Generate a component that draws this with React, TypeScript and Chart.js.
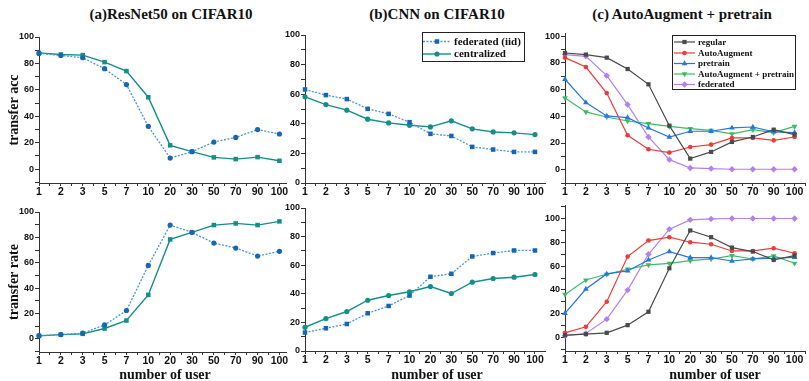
import React, { useEffect, useRef } from 'react';
import { Chart, registerables } from 'chart.js';

Chart.register(...registerables);

// ---------- data ----------
const xLabels = ['1', '2', '3', '5', '7', '10', '20', '30', '50', '70', '90', '100'];

// (a) ResNet50 on CIFAR10
const aAccFederated = [87.6, 86, 84.3, 76, 64, 32.4, 8.4, 13.2, 20.5, 24, 29.9, 26.6];
const aAccCentralized = [88, 86.8, 86.3, 81, 74.2, 54.4, 18, 13.2, 8.9, 7.6, 9.1, 6.3];
const aRateFederated = [2.6, 3.4, 4.5, 11, 22.4, 57.9, 89.7, 84, 75.5, 71.6, 65.3, 69];
const aRateCentralized = [2.4, 3.4, 4, 8.2, 14.5, 34.7, 78.4, 84, 89.7, 91, 89.7, 92.6];

// (b) CNN on CIFAR10
const bAccFederated = [63.2, 59.4, 56.7, 50.1, 46.7, 41.1, 33.2, 31.8, 24.4, 22.6, 21, 21];
const bAccCentralized = [58.2, 53, 49.2, 43.1, 40.6, 39, 37.9, 42, 36.6, 34.5, 33.9, 32.7];
const bRateFederated = [12.9, 15.9, 18.9, 26.4, 31.5, 38.8, 51.9, 54, 66.1, 68.5, 70.3, 70.3];
const bRateCentralized = [16.6, 22.7, 27.6, 35.5, 38.8, 41.4, 45.1, 40.2, 48.1, 50.7, 51.6, 53.5];

// (c) AutoAugment + pretrain
const cAccRegular = [87.5, 86.3, 84, 75.5, 64, 33, 8.3, 13.3, 20.8, 24.5, 30, 26.3];
const cAccAutoAugment = [84, 77, 57.5, 25.8, 15.3, 12.8, 17, 18.8, 23.8, 23.8, 22, 24.5];
const cAccPretrain = [67.8, 50.3, 40.3, 39, 31.3, 24.5, 28.8, 28.8, 31.3, 32, 28.3, 27.8];
const cAccAugPretrain = [53.8, 43.3, 39.5, 36.5, 34.5, 32.5, 30.8, 29.5, 26.8, 30, 27.8, 32.5];
const cAccFederated = [86.3, 85, 70.5, 48.8, 24.5, 7.5, 1.3, 0.8, 0.3, 0.3, 0.3, 0.3];

const cRateRegular = [2.2, 3.1, 4.2, 10.6, 21.8, 58.1, 89.7, 84.1, 75.4, 72.1, 65.1, 68.7];
const cRateAutoAugment = [4.2, 9.2, 30.2, 67.9, 81.3, 84.1, 79.9, 78.2, 72.6, 72.6, 74.9, 70.7];
const cRatePretrain = [20.4, 40.8, 53.4, 55.9, 65.1, 72.1, 67, 67, 64.2, 65.9, 66.5, 67.3];
const cRateAugPretrain = [36.3, 48.3, 53.1, 57.3, 60.9, 62.3, 64.5, 65.9, 68.7, 65.9, 68.4, 62.3];
const cRateFederated = [1.7, 3.6, 15.6, 39.9, 69.8, 90.8, 98.6, 99.4, 99.7, 99.7, 99.7, 99.7];

// ---------- styles ----------
const SANS = "'Liberation Sans', Arial, Helvetica, sans-serif";
const SERIF = "'Liberation Serif', 'Times New Roman', Times, serif";
const AX = '#333333';
const TXT = '#111111';

type Series = {
  label: string;
  values: number[];
  color: string;
  lineColor?: string;
  dash?: number[];
  point: string;
  rotation?: number;
  radius: number;
  width: number;
};

type LegendSpec = {
  x: number; y: number; w: number; h: number;
  rows: number[]; lineX1: number; lineX2: number; textX: number; fontSize: number;
};

type PanelSpec = {
  left: number; top: number; width: number; height: number;
  yWidth: number; xHeight: number; padTop: number; padRight: number;
  xMax: number; yMin: number; yMax: number;
  yTitle?: string;
  series: Series[];
  legend?: LegendSpec;
};

const BLUE = '#1766b3';
const BLUE_LINE = '#4a95d6';
const TEAL = '#138f87';

const fedCircle = (values: number[]): Series => ({ label: 'federated (iid)', values, color: BLUE, lineColor: BLUE_LINE, dash: [2, 1.5], point: 'circle', radius: 2.6, width: 1.3 });
const cenRect = (values: number[]): Series => ({ label: 'centralized', values, color: TEAL, point: 'rect', radius: 3.2, width: 1.4 });
const fedRect = (values: number[]): Series => ({ label: 'federated (iid)', values, color: BLUE, lineColor: BLUE_LINE, dash: [2, 1.5], point: 'rect', radius: 3.2, width: 1.3 });
const cenCircle = (values: number[]): Series => ({ label: 'centralized', values, color: TEAL, point: 'circle', radius: 2.6, width: 1.4 });

const cSeries = (reg: number[], aa: number[], pre: number[], aap: number[], fed: number[]): Series[] => [
  { label: 'regular', values: reg, color: '#4a4a4a', point: 'rect', radius: 3, width: 1.2 },
  { label: 'AutoAugment', values: aa, color: '#f03a3a', point: 'circle', radius: 2.3, width: 1.2 },
  { label: 'pretrain', values: pre, color: '#2676e0', point: 'triangle', radius: 3.3, width: 1.2 },
  { label: 'AutoAugment + pretrain', values: aap, color: '#3dba66', point: 'triangle', rotation: 180, radius: 3.3, width: 1.2 },
  { label: 'federated', values: fed, color: '#b480ee', point: 'rectRot', radius: 3.2, width: 1.2 },
];

const panels: PanelSpec[] = [
  // top row
  { left: 0, top: 29, width: 290, height: 174, yWidth: 39, xHeight: 20, padTop: 8, padRight: 4,
    xMax: 11.3, yMin: -10.5, yMax: 100, yTitle: 'transfer acc',
    series: [fedCircle(aAccFederated), cenRect(aAccCentralized)] },
  { left: 270, top: 27, width: 279, height: 176, yWidth: 35, xHeight: 20, padTop: 8, padRight: 4,
    xMax: 11.48, yMin: 0, yMax: 100,
    series: [fedRect(bAccFederated), cenCircle(bAccCentralized)],
    legend: { x: 422, y: 32, w: 102, h: 29, rows: [41.5, 54], lineX1: 423, lineX2: 451, textX: 454, fontSize: 11 } },
  { left: 530, top: 25, width: 279, height: 178, yWidth: 35, xHeight: 20, padTop: 8, padRight: 2,
    xMax: 11.5, yMin: -10, yMax: 102.5,
    series: cSeries(cAccRegular, cAccAutoAugment, cAccPretrain, cAccAugPretrain, cAccFederated),
    legend: { x: 672, y: 35, w: 123, h: 54, rows: [42, 53, 63.5, 74, 84.5], lineX1: 674, lineX2: 695, textX: 698, fontSize: 9 } },
  // bottom row
  { left: 0, top: 204, width: 290, height: 168, yWidth: 39, xHeight: 20, padTop: 8, padRight: 4,
    xMax: 11.3, yMin: -10.3, yMax: 100, yTitle: 'transfer rate',
    series: [fedCircle(aRateFederated), cenRect(aRateCentralized)] },
  { left: 270, top: 200, width: 279, height: 171, yWidth: 35, xHeight: 20, padTop: 8, padRight: 4,
    xMax: 11.48, yMin: 0, yMax: 100,
    series: [fedRect(bRateFederated), cenCircle(bRateCentralized)] },
  { left: 530, top: 197, width: 279, height: 174, yWidth: 35, xHeight: 20, padTop: 8, padRight: 2,
    xMax: 11.5, yMin: -11, yMax: 111,
    series: cSeries(cRateRegular, cRateAutoAugment, cRatePretrain, cRateAugPretrain, cRateFederated) },
];

const titles = [
  { text: '(a)ResNet50 on CIFAR10', cx: 171, cy: 14 },
  { text: '(b)CNN on CIFAR10', cx: 437, cy: 14 },
  { text: '(c) AutoAugment + pretrain', cx: 682, cy: 14 },
];
const xTitles = [
  { text: 'number of user', cx: 165, cy: 375 },
  { text: 'number of user', cx: 437, cy: 375 },
  { text: 'number of user', cx: 715, cy: 375 },
];

// ---------- helpers ----------
function drawMarker(ctx: CanvasRenderingContext2D, style: string, x: number, y: number, r: number, rot: number) {
  ctx.beginPath();
  if (style === 'circle') {
    ctx.arc(x, y, r, 0, Math.PI * 2);
  } else if (style === 'rect') {
    const h = r * Math.SQRT1_2;
    ctx.rect(x - h, y - h, 2 * h, 2 * h);
  } else if (style === 'rectRot') {
    ctx.moveTo(x, y - r); ctx.lineTo(x + r, y); ctx.lineTo(x, y + r); ctx.lineTo(x - r, y); ctx.closePath();
  } else {
    for (let i = 0; i < 3; i++) {
      const a = ((rot - 90 + 120 * i) * Math.PI) / 180;
      const px = x + r * Math.cos(a);
      const py = y + r * Math.sin(a);
      if (i === 0) ctx.moveTo(px, py); else ctx.lineTo(px, py);
    }
    ctx.closePath();
  }
  ctx.fill();
}

function makeLegendPlugin(s: PanelSpec) {
  return {
    id: 'boxLegend',
    afterDatasetsDraw(chart: any) {
      const L = s.legend;
      if (!L) return;
      const ctx: CanvasRenderingContext2D = chart.ctx;
      const ox = s.left, oy = s.top;
      ctx.save();
      ctx.fillStyle = '#ffffff';
      ctx.fillRect(L.x - ox, L.y - oy, L.w, L.h);
      ctx.strokeStyle = '#222222';
      ctx.lineWidth = 1;
      ctx.setLineDash([]);
      ctx.strokeRect(L.x - ox + 0.5, L.y - oy + 0.5, L.w, L.h);
      ctx.font = `bold ${L.fontSize}px ${SERIF}`;
      ctx.textBaseline = 'middle';
      ctx.textAlign = 'left';
      s.series.forEach((se, i) => {
        const y = L.rows[i] - oy;
        ctx.strokeStyle = se.lineColor ?? se.color;
        ctx.lineWidth = se.width;
        ctx.setLineDash(se.dash ?? []);
        ctx.beginPath();
        ctx.moveTo(L.lineX1 - ox, y);
        ctx.lineTo(L.lineX2 - ox, y);
        ctx.stroke();
        ctx.setLineDash([]);
        ctx.fillStyle = se.color;
        drawMarker(ctx, se.point, (L.lineX1 + L.lineX2) / 2 - ox, y, se.radius, se.rotation ?? 0);
        ctx.fillStyle = TXT;
        ctx.fillText(se.label, L.textX - ox, y + 0.5);
      });
      ctx.restore();
    },
  };
}

function buildConfig(s: PanelSpec): any {
  const datasets = s.series.map((se) => ({
    label: se.label,
    data: se.values.map((v, i) => ({ x: i, y: v })),
    borderColor: se.lineColor ?? se.color,
    backgroundColor: se.color,
    borderWidth: se.width,
    borderDash: se.dash ?? [],
    pointStyle: se.point,
    pointRotation: se.rotation ?? 0,
    pointRadius: se.radius,
    pointBackgroundColor: se.color,
    pointBorderColor: se.color,
    pointBorderWidth: 0,
    tension: 0,
    clip: false,
  }));
  return {
    type: 'line',
    data: { datasets },
    options: {
      responsive: false,
      animation: false,
      events: [],
      layout: { padding: { left: 0, right: s.padRight, top: s.padTop, bottom: 0 } },
      plugins: { legend: { display: false }, tooltip: { enabled: false }, title: { display: false } },
      scales: {
        x: {
          type: 'linear',
          min: 0,
          max: s.xMax,
          afterFit: (sc: any) => { sc.height = s.xHeight; },
          ticks: {
            stepSize: 0.5,
            maxTicksLimit: 100,
            autoSkip: false,
            maxRotation: 0,
            minRotation: 0,
            includeBounds: false,
            padding: 0,
            callback: (v: number) => (Number.isInteger(v) && v >= 0 && v < xLabels.length ? xLabels[v] : ''),
            font: { family: SANS, size: 10.5, weight: 'bold' },
            color: TXT,
          },
          grid: { display: true, drawOnChartArea: false, drawTicks: true, tickLength: 3, color: AX },
          border: { display: true, color: AX, width: 1 },
        },
        y: {
          type: 'linear',
          min: s.yMin,
          max: s.yMax,
          afterFit: (sc: any) => { sc.width = s.yWidth; },
          ticks: {
            stepSize: 10,
            maxTicksLimit: 100,
            autoSkip: false,
            includeBounds: false,
            padding: 1,
            callback: (v: number) => (v % 20 === 0 && v >= 0 && v <= 100 ? String(v) : ''),
            font: { family: SANS, size: 9, weight: 'bold' },
            color: TXT,
          },
          grid: { display: true, drawOnChartArea: false, drawTicks: true, tickLength: 4, color: AX },
          border: { display: true, color: AX, width: 1 },
          title: s.yTitle
            ? { display: true, text: s.yTitle, color: TXT, font: { family: SERIF, size: 14, weight: 'bold' }, padding: { top: 6, bottom: 0 } }
            : { display: false },
        },
      },
    },
    plugins: s.legend ? [makeLegendPlugin(s)] : [],
  };
}

function Panel({ spec }: { spec: PanelSpec }) {
  const ref = useRef<HTMLCanvasElement>(null);
  useEffect(() => {
    if (!ref.current) return;
    const chart = new Chart(ref.current, buildConfig(spec));
    return () => chart.destroy();
  }, [spec]);
  return (
    <canvas
      ref={ref}
      width={spec.width}
      height={spec.height}
      style={{ position: 'absolute', left: spec.left, top: spec.top, width: spec.width, height: spec.height }}
    />
  );
}

function Label({ text, cx, cy, size }: { text: string; cx: number; cy: number; size: number }) {
  return (
    <div
      style={{
        position: 'absolute',
        left: cx - 150,
        top: cy - 10,
        width: 300,
        height: 20,
        lineHeight: '20px',
        textAlign: 'center',
        fontFamily: SERIF,
        fontWeight: 'bold',
        fontSize: size,
        color: TXT,
        whiteSpace: 'nowrap',
      }}
    >
      {text}
    </div>
  );
}

export default function App() {
  return (
    <div style={{ position: 'absolute', left: 0, top: 0, width: 809, height: 381, background: '#ffffff', overflow: 'hidden' }}>
      {panels.map((p, i) => (
        <Panel key={i} spec={p} />
      ))}
      {titles.map((t, i) => (
        <Label key={'t' + i} text={t.text} cx={t.cx} cy={t.cy} size={15} />
      ))}
      {xTitles.map((t, i) => (
        <Label key={'x' + i} text={t.text} cx={t.cx} cy={t.cy} size={14} />
      ))}
    </div>
  );
}
